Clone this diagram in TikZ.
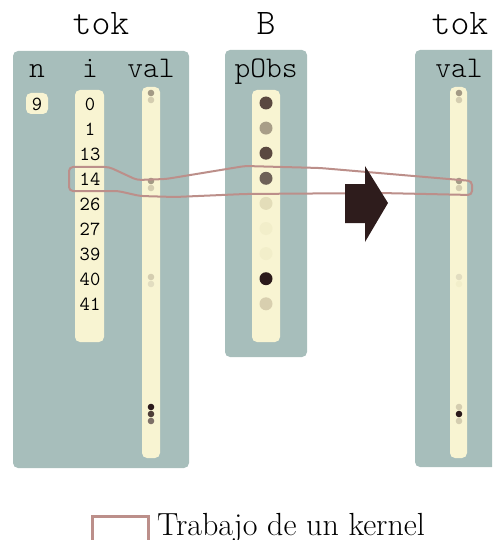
\documentclass[tikz,border=0pt]{standalone}
\usepackage{fontspec}
\setmonofont{Latin Modern Mono Light}
\newfontfamily\monoreg{Latin Modern Mono}
\definecolor{panelc}{HTML}{A7BEBB}
\definecolor{colc}{HTML}{F8F4D2}
\definecolor{kernelc}{HTML}{BC8F8A}
\definecolor{arrowc}{HTML}{2E1C1C}
\definecolor{dA}{HTML}{5A4840}
\definecolor{dB}{HTML}{A89E88}
\definecolor{dC}{HTML}{6E6158}
\definecolor{dD}{HTML}{E3DDB9}
\definecolor{dE}{HTML}{F2EECA}
\definecolor{dF}{HTML}{2B1A1B}
\definecolor{dG}{HTML}{D8CFAF}
\definecolor{sA}{HTML}{A39A85}
\definecolor{sB}{HTML}{D4CDB0}
\definecolor{sC}{HTML}{E2DDC0}
\definecolor{sD}{HTML}{4D3D37}
\definecolor{sE}{HTML}{7D7068}
\begin{document}
\begin{tikzpicture}[x=1pt,y=-1pt,
  panel/.style={fill=panelc, rounded corners=5pt},
  column/.style={fill=colc, rounded corners=5pt},
  title/.style={font=\ttfamily\fontsize{36}{36}\selectfont, anchor=base, inner sep=0pt},
  header/.style={font=\ttfamily\fontsize{30}{30}\selectfont, anchor=base, inner sep=0pt},
  num/.style={font=\monoreg\fontsize{20}{20}\selectfont, anchor=base, inner sep=0pt},
  bigdot/.style={circle, inner sep=0pt, minimum size=13pt, fill=#1},
  smalldot/.style={circle, inner sep=0pt, minimum size=6.6pt, fill=#1},
  kernel/.style={draw=kernelc, line width=2pt, rounded corners=4pt},
  bigarrow/.style={fill=arrowc}]
\useasboundingbox (0,0) rectangle (492,540);
\clip (0,0) rectangle (492,540);

% panels
\fill[panel] (13,51) rectangle (189,468);
\fill[panel] (225,50) rectangle (307,357);
\fill[panel] (415,50) rectangle (503,467);

% columns
\fill[column] (26,93) rectangle (48,114);
\fill[column] (75,90) rectangle (104,342);
\fill[column] (142,87) rectangle (160,458);
\fill[column] (252,90) rectangle (280,342);
\fill[column] (450,87) rectangle (467,458);

% titles and headers
\node[title] (tokL) at (101,35) {tok};
\node[title] (B) at (266,35) {B};
\node[title] (tokR) at (460,35) {tok};
\node[header] (hn) at (37,78) {n};
\node[header] (hi) at (90,78) {i};
\node[header] (hvalL) at (151,78) {val};
\node[header] (hpobs) at (266,78) {pObs};
\node[header] (hvalR) at (459,78) {val};

% n and i values
\node[num] (n9) at (37,111) {9};
\foreach \v [count=\k from 0] in {0,1,13,14,26,27,39,40,41}
  \node[num] (i\k) at (90,111+24.9*\k) {\v};

% pObs dots
\foreach \c [count=\k from 0] in {dA,dB,dA,dC,dD,dE,dE,dF,dG}
  \node[bigdot=\c] (p\k) at (266,103+25.1*\k) {};

% left val dots
\node[smalldot=sA] (l1) at (151,93) {};
\node[smalldot=sB] (l2) at (151,100) {};
\node[smalldot=sA] (l3) at (151,181) {};
\node[smalldot=sB] (l4) at (151,188) {};
\node[smalldot=sB] (l5) at (151,277) {};
\node[smalldot=sC] (l6) at (151,284) {};
\node[smalldot=dF] (l7) at (151,407) {};
\node[smalldot=sD] (l8) at (151,414) {};
\node[smalldot=sE] (l9) at (151,421) {};

% right val dots
\node[smalldot=sA] (r1) at (459,93) {};
\node[smalldot=sB] (r2) at (459,100) {};
\node[smalldot=sA] (r3) at (459,181) {};
\node[smalldot=sB] (r4) at (459,188) {};
\node[smalldot=sC] (r5) at (459,277) {};
\node[smalldot=dE] (r6) at (459,284) {};
\node[smalldot=sB] (r7) at (459,407) {};
\node[smalldot=dF] (r8) at (459,414) {};
\node[smalldot=sB] (r9) at (459,421) {};

% work of one kernel
\draw[kernel] (69,167) -- (109,167) -- (137,180) -- (166,179) -- (245,166)
  -- (320,168) -- (472,181) -- (472,195) -- (380,193) -- (245,194)
  -- (175,197) -- (140,196) -- (118,191) -- (69,191) -- cycle;

% transformation arrow
\fill[bigarrow] (345,184) -- (365,184) -- (365,166) -- (388,203)
  -- (365,242) -- (365,223) -- (345,223) -- cycle;

% legend
\draw[draw=kernelc, line width=3pt, fill=white] (92,516) rectangle (148,543);
\node[anchor=base west, inner sep=0pt, font=\fontsize{32}{32}\selectfont]
  (leg) at (157,535) {Trabajo de un kernel};
\end{tikzpicture}
\end{document}
